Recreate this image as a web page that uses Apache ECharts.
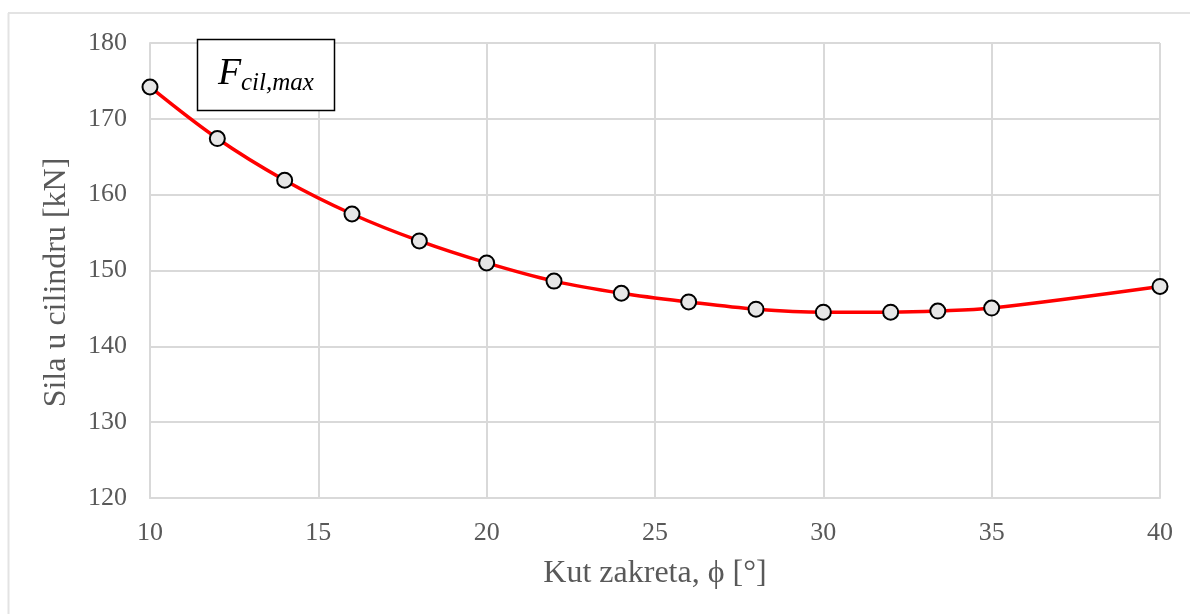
<!DOCTYPE html>
<html>
<head>
<meta charset="utf-8">
<script src="https://cdn.jsdelivr.net/npm/echarts@6/dist/echarts.min.js"></script>
<style>html,body{margin:0;padding:0;background:#fff}#c{width:1190px;height:614px}</style>
</head>
<body>
<div id="c"></div>
<script>
var angles = [10, 12, 14, 16, 18, 20, 22, 24, 26, 28, 30, 32, 33.4, 35, 40];
var forces = [174.2, 167.4, 161.9, 157.45, 153.9, 151.0, 148.6, 147.0, 145.85, 144.9, 144.5, 144.5, 144.65, 145.05, 147.9];
var xTicks = [10, 15, 20, 25, 30, 35, 40];
var yTicks = [120, 130, 140, 150, 160, 170, 180];
var xTitle = 'Kut zakreta, \u03d5 [\u00b0]';
var yTitle = 'Sila u cilindru [kN]';
var legendMain = 'F';
var legendSub = 'cil,max';

var chart = echarts.init(document.getElementById('c'), null, {renderer: 'canvas'});
var font = '"Liberation Serif", "Times New Roman", serif';
chart.setOption({
  animation: false,
  backgroundColor: '#fff',
  grid: {left: 150, right: 30, top: 43, bottom: 116, containLabel: false},
  xAxis: {
    type: 'value', min: xTicks[0], max: xTicks[xTicks.length - 1], interval: 5,
    name: xTitle, nameLocation: 'middle', nameGap: 60,
    nameTextStyle: {fontFamily: font, fontSize: 32, color: '#595959'},
    axisLine: {show: true, lineStyle: {color: '#d9d9d9', width: 2}},
    axisTick: {show: false},
    axisLabel: {fontFamily: font, fontSize: 26, color: '#595959', margin: 22},
    splitLine: {show: true, lineStyle: {color: '#d9d9d9', width: 2}}
  },
  yAxis: {
    type: 'value', min: yTicks[0], max: yTicks[yTicks.length - 1], interval: 10,
    name: yTitle, nameLocation: 'middle', nameGap: 77, nameRotate: 90,
    nameTextStyle: {fontFamily: font, fontSize: 32, color: '#595959', padding: [0, 24, 0, 0]},
    axisLine: {show: true, lineStyle: {color: '#d9d9d9', width: 2}},
    axisTick: {show: false},
    axisLabel: {fontFamily: font, fontSize: 26, color: '#595959', margin: 23},
    splitLine: {show: true, lineStyle: {color: '#d9d9d9', width: 2}}
  },
  series: [{
    type: 'line',
    data: angles.map(function (a, i) { return [a, forces[i]]; }),
    smooth: 0.35,
    symbol: 'circle', symbolSize: 15,
    lineStyle: {color: '#ff0000', width: 3.5},
    itemStyle: {color: '#e6e6e6', borderColor: '#000', borderWidth: 2},
    z: 3
  }],
  graphic: [
    {type: 'line', shape: {x1: 8, y1: 13, x2: 1190, y2: 13}, style: {stroke: '#e3e3e3', lineWidth: 2}, silent: true},
    {type: 'line', shape: {x1: 8.5, y1: 13, x2: 8.5, y2: 614}, style: {stroke: '#e3e3e3', lineWidth: 2}, silent: true},
    {type: 'rect', shape: {x: 197.5, y: 39.5, width: 137, height: 71}, style: {fill: '#fff', stroke: '#000', lineWidth: 1.5}, z: 10},
    {type: 'text', x: 218, y: 74, z: 11,
      style: {text: legendMain, fontFamily: font, fontStyle: 'italic', fontSize: 38, fill: '#000', verticalAlign: 'middle', align: 'left'}},
    {type: 'text', x: 241, y: 83.5, z: 11,
      style: {text: legendSub, fontFamily: font, fontStyle: 'italic', fontSize: 25, fill: '#000', verticalAlign: 'middle', align: 'left'}}
  ]
});
</script>
</body>
</html>
